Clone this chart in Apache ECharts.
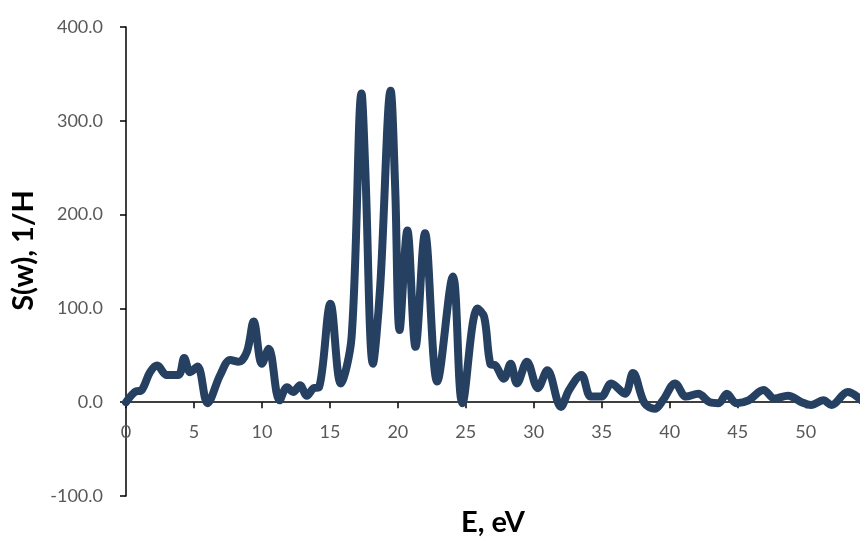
<!DOCTYPE html>
<html>
<head>
<meta charset="utf-8">
<script src="https://cdn.jsdelivr.net/npm/echarts@6/dist/echarts.min.js"></script>
<style>
    html, body { margin: 0; padding: 0; background: #fff; }
    #chart { width: 860px; height: 537px; }
</style>
</head>
<body>
<div id="chart"></div>
<script>
// energy, eV
var energy = [0, 0.66, 1.16, 1.77, 2.3, 3.0, 3.86, 4.28, 4.72, 5.26, 6.0, 6.93, 7.67, 8.28, 8.9,
    9.39, 10.0, 10.5, 11.3, 11.85, 12.3, 12.8, 13.3, 13.8, 14.2, 15.04, 15.8, 16.6, 17.33, 17.6,
    18.17, 18.7, 19.47, 19.8, 20.13, 20.7, 21.3, 22.0, 22.9, 24.05, 24.75, 25.86, 26.35, 26.8,
    27.2, 27.8, 28.3, 28.76, 29.5, 30.3, 31.0, 32.0, 32.6, 33.5, 34.2, 34.95, 35.7, 36.7, 37.3,
    38.15, 38.9, 39.5, 40.4, 41.2, 42.1, 42.95, 43.6, 44.2, 44.9, 45.8, 46.9, 47.7, 48.7, 49.7,
    50.4, 51.3, 51.9, 53.1, 54.1];
// S(w), 1/H
var intensity = [0, 11, 13, 32, 39, 29, 29, 47, 32, 38, -1, 29, 45, 43, 54,
    86, 41, 57, 2, 16, 11, 18, 7, 15, 16, 105, 20, 70, 329, 250,
    41, 123, 332, 230, 77, 183, 59, 180, 22, 134, -1, 100, 91, 41,
    39, 25, 41, 20, 43, 15, 34, -5, 13, 29, 6, 6, 20, 9, 31,
    -1, -7, 2, 20, 6, 9, 0, -1, 9, -1, 2, 13, 4, 7, 0,
    -3, 2, -3, 11, 2];
var yTicks = [-100, 0, 100, 200, 300, 400];

var myChart = echarts.init(document.getElementById('chart'));

var points = energy.map(function (e, i) {
    return [e, intensity[i]];
});

var gridTop = 27, gridBottom = 41;
var plotH = 537 - gridTop - gridBottom;
// lift the x axis from the grid bottom up to the y = 0 line
var zeroOffset = -plotH * (0 - yTicks[0]) / (yTicks[yTicks.length - 1] - yTicks[0]);

var option = {
    animation: false,
    grid: {
        left: 126,
        right: 0,
        top: gridTop,
        bottom: gridBottom,
        outerBoundsMode: 'none'
    },
    xAxis: {
        type: 'value',
        min: 0,
        max: 54,
        interval: 5,
        offset: zeroOffset,
        name: 'E, eV',
        nameLocation: 'middle',
        nameGap: 106,
        nameTextStyle: { fontFamily: 'Lato', fontWeight: 'bold', fontSize: 29, color: '#000' },
        axisLine: { show: true, onZero: false, lineStyle: { color: '#000', width: 1.5 } },
        axisTick: { show: true, length: 6, lineStyle: { color: '#000', width: 1.5 } },
        axisLabel: {
            showMaxLabel: false,
            fontFamily: 'Lato', fontSize: 18, color: '#595959', margin: 21
        },
        splitLine: { show: false }
    },
    yAxis: {
        type: 'value',
        min: yTicks[0],
        max: yTicks[yTicks.length - 1],
        interval: 100,
        name: 'S(w), 1/H',
        nameLocation: 'middle',
        nameGap: 88,
        nameTextStyle: {
            fontFamily: 'Lato', fontWeight: 'bold', fontSize: 29, color: '#000',
            padding: [0, 0, 0, 22]
        },
        axisLine: { show: true, lineStyle: { color: '#000', width: 1.5 } },
        axisTick: { show: true, length: 6, lineStyle: { color: '#000', width: 1.5 } },
        axisLabel: {
            fontFamily: 'Lato', fontSize: 18, color: '#595959', margin: 23,
            formatter: function (v) { return v.toFixed(1); }
        },
        splitLine: { show: false }
    },
    series: [{
        type: 'line',
        data: points,
        smooth: 0.35,
        showSymbol: false,
        lineStyle: { color: '#264062', width: 8, cap: 'round', join: 'round' }
    }]
};

myChart.setOption(option);
</script>
</body>
</html>
